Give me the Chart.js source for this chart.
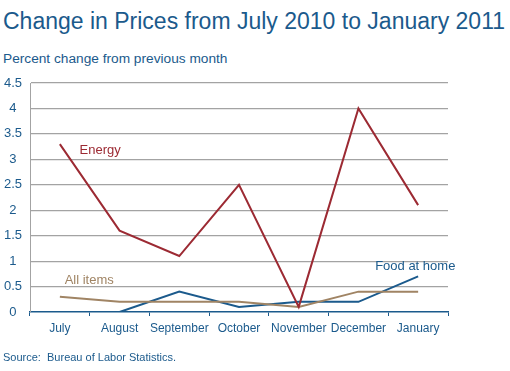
<!DOCTYPE html>
<html>
<head>
<meta charset="utf-8">
<script src="https://cdn.jsdelivr.net/npm/chart.js@4"></script>
<style>
    html, body { margin: 0; padding: 0; background: #fff; }
    #wrap { position: relative; width: 510px; height: 371px; overflow: hidden; font-family: 'Liberation Sans', Arial, sans-serif; color: #1b5a8c; }
    #wrap div { position: absolute; left: 3px; line-height: 1; white-space: nowrap; }
    #title { top: 10px; font-size: 23px; }
    #subtitle { top: 52px; font-size: 13.7px; }
    #source { top: 352px; font-size: 11px; }
    canvas { position: absolute; left: 0; top: 0; }
</style>
</head>
<body>
<div id="wrap">
    <div id="title">Change in Prices from July 2010 to January 2011</div>
    <div id="subtitle">Percent change from previous month</div>
    <canvas id="priceChart" width="510" height="371"></canvas>
    <div id="source">Source:&nbsp; Bureau of Labor Statistics.</div>
</div>
<script>
// monthly percent change, July 2010 - January 2011
let months = ['July', 'August', 'September', 'October', 'November', 'December', 'January'];
let energy = [3.3, 1.6, 1.1, 2.5, 0.1, 4.0, 2.1];
let foodAtHome = [0, 0, 0.4, 0.1, 0.2, 0.2, 0.7];
let allItems = [0.3, 0.2, 0.2, 0.2, 0.1, 0.4, 0.4];

let blue = '#1b5a8c';
let red = '#9c2a33';
let tan = '#a08464';
let font = "'Liberation Sans', Arial, sans-serif";

// series names drawn next to the lines, anchored in data units
let seriesLabels = [
    { text: 'Energy', color: red, x: 0.33, y: 3.17 },
    { text: 'All items', color: tan, x: 0.08, y: 0.63 },
    { text: 'Food at home', color: blue, x: 5.28, y: 0.89 }
];

let lineLabels = {
    id: 'lineLabels',
    afterDatasetsDraw(chart) {
        let ctx = chart.ctx;
        let xs = chart.scales.x, ys = chart.scales.y;
        ctx.save();
        ctx.font = '13px ' + font;
        ctx.textAlign = 'left';
        ctx.textBaseline = 'middle';
        seriesLabels.forEach(l => {
            ctx.fillStyle = l.color;
            ctx.fillText(l.text, xs.getPixelForValue(l.x), ys.getPixelForValue(l.y));
        });
        ctx.restore();
    }
};

let lineData = {
    labels: months,
    datasets: [
        { label: 'Energy', data: energy, borderColor: red, borderWidth: 2, pointRadius: 0, fill: false },
        { label: 'All items', data: allItems, borderColor: tan, borderWidth: 2, pointRadius: 0, fill: false },
        { label: 'Food at home', data: foodAtHome, borderColor: blue, borderWidth: 2, pointRadius: 0, fill: false }
    ]
};

new Chart(document.getElementById('priceChart').getContext('2d'), {
    type: 'line',
    data: lineData,
    options: {
        responsive: false,
        animation: false,
        layout: { padding: { left: 0, top: 83, right: 62, bottom: 29 } },
        plugins: { legend: { display: false }, tooltip: { enabled: false } },
        scales: {
            x: {
                offset: true,
                afterFit: s => { s.height = 30; },
                grid: { offset: true, drawOnChartArea: false, drawTicks: true, tickLength: 4, color: blue },
                border: { color: blue, width: 1.5 },
                ticks: { color: blue, font: { family: font, size: 12 }, padding: 5, maxRotation: 0, autoSkip: false }
            },
            y: {
                min: 0,
                max: 4.5,
                afterFit: s => { s.width = 30; },
                grid: {
                    drawTicks: false,
                    color: c => c.tick.value === 0 ? 'rgba(0,0,0,0)' : '#a3a3a3',
                    lineWidth: 1.2
                },
                border: { color: '#a3a3a3', width: 1 },
                ticks: {
                    stepSize: 0.5,
                    color: blue,
                    font: { family: font, size: 13 },
                    padding: 8,
                    crossAlign: 'center',
                    callback: v => String(Math.round(v * 10) / 10)
                }
            }
        }
    },
    plugins: [lineLabels]
});
</script>
</body>
</html>
